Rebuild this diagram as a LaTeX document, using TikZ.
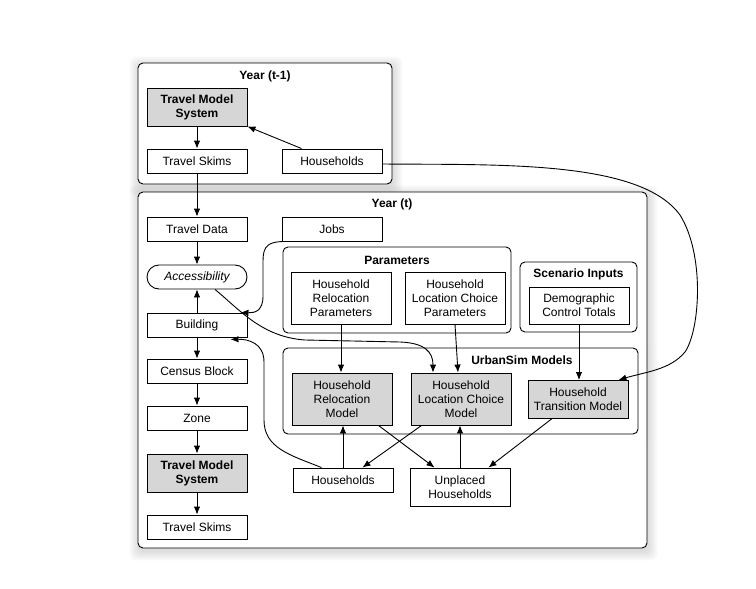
\documentclass[tikz,border=0pt]{standalone}
\usepackage{fontspec}
\setmainfont{Liberation Sans}
\usetikzlibrary{arrows.meta,calc}
\definecolor{boxgray}{RGB}{214,214,214}
\pgfdeclarelayer{bg}
\pgfsetlayers{bg,main}
\newcommand\softshadow[1]{%
  \foreach \d in {1,3,5,7,9}{%
    \fill[black,opacity=0.028,rounded corners=7pt]
      ($(#1.south west)+(-\d+1,\d+3)$) rectangle ($(#1.north east)+(\d+1,-\d+3)$);}}
\begin{document}
\begin{tikzpicture}[x=1pt,y=-1pt,
  every node/.style={font=\fontsize{12}{14}\selectfont},
  box/.style={draw, line width=0.9pt, minimum width=100pt, minimum height=24pt, inner sep=0pt, align=center, fill=white},
  greybox/.style={box, fill=boxgray},
  boldtext/.style={font=\fontsize{12}{14}\selectfont\bfseries},
  cont/.style={draw, line width=0.9pt, rounded corners=5pt, fill=white, inner sep=0pt},
  arr/.style={line width=0.9pt, -{Latex[length=8pt,width=6.5pt]}},
]
\useasboundingbox (0,0) rectangle (756,589);
% containers
\node[cont, minimum width=254pt, minimum height=121pt] (y1) at (265,123.5) {};
\node[cont, minimum width=509pt, minimum height=356pt] (y2) at (392.5,370) {};
\node[cont, minimum width=228pt, minimum height=86pt] (par) at (397,290) {};
\node[cont, minimum width=117pt, minimum height=70pt] (scen) at (578.5,297) {};
\node[cont, minimum width=355pt, minimum height=86pt] (urb) at (460.5,391) {};
\begin{pgfonlayer}{bg}
\softshadow{y1}
\softshadow{y2}
\softshadow{par}
\softshadow{scen}
\softshadow{urb}
\end{pgfonlayer}
% titles
\node[boldtext] (t1) at (265,76) {Year (t-1)};
\node[boldtext] (t2) at (392,204) {Year (t)};
\node[boldtext] (tp) at (397,260) {Parameters};
\node[boldtext] (ts) at (578.5,274) {Scenario Inputs};
\node[boldtext] (tu) at (522,360) {UrbanSim Models};
% nodes
\node[greybox, boldtext, minimum height=38pt] (tms1) at (197,107) {Travel Model\\System};
\node[box] (sk1) at (197,161) {Travel Skims};
\node[box] (hh1) at (332,161) {Households};
\node[box] (td) at (197,229) {Travel Data};
\node[box] (jobs) at (332,229) {Jobs};
\node[box, rounded corners=12pt] (acc) at (197,277) {\itshape Accessibility};
\node[box] (bld) at (197,325) {Building};
\node[box] (cb) at (197,371) {Census Block};
\node[box] (zone) at (197,418) {Zone};
\node[greybox, boldtext, minimum height=38pt] (tms2) at (197,473) {Travel Model\\System};
\node[box] (sk2) at (197,527) {Travel Skims};
\node[box, minimum height=52pt] (hrp) at (341,298) {Household\\Relocation\\Parameters};
\node[box, minimum height=52pt] (hlcp) at (455,298) {Household\\Location Choice\\Parameters};
\node[box, minimum height=37pt] (dct) at (579,305.5) {Demographic\\Control Totals};
\node[greybox, minimum height=52pt] (hrm) at (342,399) {Household\\Relocation\\Model};
\node[greybox, minimum height=52pt] (hlcm) at (461,399) {Household\\Location Choice\\Model};
\node[greybox, minimum height=38pt] (htm) at (578,399.5) {Household\\Transition Model};
\node[box] (hh2) at (343,480) {Households};
\node[box, minimum height=38pt] (unp) at (460,487) {Unplaced\\Households};
% straight connectors
\draw[arr] (tms1) -- (sk1);
\draw[arr] ($(hh1.north west)+(20,0)$) -- (tms1.south east);
\draw[arr] (sk1) -- (td);
\draw[arr] (td) -- (acc);
\draw[arr] (bld) -- (acc);
\draw[arr] (bld) -- (cb);
\draw[arr] (cb) -- (zone);
\draw[arr] (zone) -- (tms2);
\draw[arr] (tms2) -- (sk2);
\draw[arr] (hrp.south) -- (hrp.south |- hrm.north);
\draw[arr] (hlcp.south) -- ($(hlcm.north)+(-3,0)$);
\draw[arr] (dct.south) -- (dct.south |- htm.north);
\draw[arr] (hh2.north) -- (hh2.north |- hrm.south);
\draw[arr] ($(hrm.south east)+(-14,0)$) -- ($(unp.north west)+(25,0)$);
\draw[arr] ($(hlcm.south west)+(11,0)$) -- ($(hh2.north east)+(-31,0)$);
\draw[arr] (unp.north) -- (unp.north |- hlcm.south);
\draw[arr] ($(htm.south west)+(24,0)$) -- ($(unp.north east)+(-22,0)$);
% curved connectors
\draw[arr] ($(jobs.south west)+(6,0)$) .. controls (262,241) and (263,250) .. (263,268)
  -- (263,296) .. controls (263,311) and (255,313) .. ($(bld.north east)+(-7,0)$);
\draw[arr] ($(acc.south)+(18,0)$) .. controls (240,310) and (262,337) .. (305,340)
  -- (400,342) .. controls (425,343) and (433,352) .. ($(hlcm.north)+(-28,0)$);
\draw[arr] ($(hh2.north west)+(29,0)$) .. controls (290,455) and (264,448) .. (264,420)
  -- (264,362) .. controls (264,343) and (248,339) .. ($(bld.south east)+(-17,2)$);
\draw[arr] ($(hh1.east)+(0,3)$) .. controls (500,165) and (640,160) .. (680,215)
  .. controls (705,255) and (700,330) .. (685,352)
  .. controls (670,370) and (645,372) .. ($(htm.north east)+(-10,0)$);
\end{tikzpicture}
\end{document}
